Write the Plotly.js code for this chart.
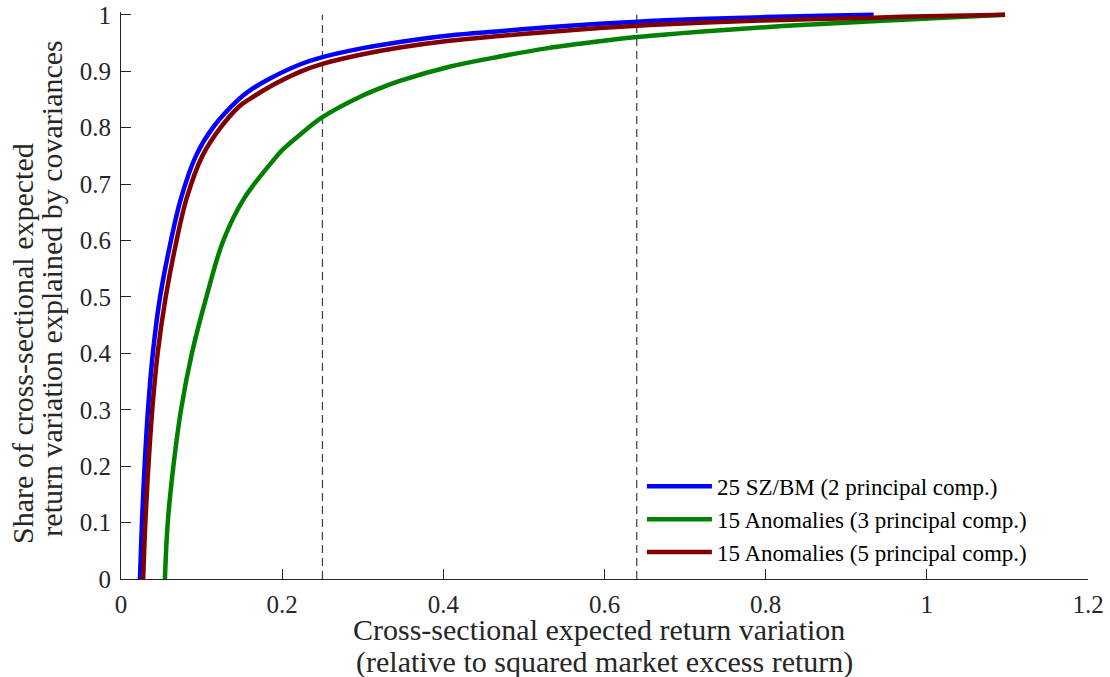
<!DOCTYPE html>
<html>
<head>
<meta charset="utf-8">
<script src="https://cdn.plot.ly/plotly-3.0.1.min.js"></script>
<style>
html,body{margin:0;padding:0;background:#fff;}
#chart{width:1110px;height:677px;}
</style>
</head>
<body>
<div id="chart"></div>
<script>
// Series names
const seriesNames = [
  "25 SZ/BM (2 principal comp.)",
  "15 Anomalies (3 principal comp.)",
  "15 Anomalies (5 principal comp.)"
];

// 25 SZ/BM (2 principal comp.)
const blueX = [0.0235, 0.026, 0.0293, 0.0335, 0.0395, 0.0485, 0.062, 0.0745, 0.093, 0.114, 0.146, 0.16, 0.186, 0.222, 0.25, 0.30, 0.346, 0.4075, 0.47, 0.53, 0.594, 0.656, 0.718, 0.80, 0.87, 0.934];
const blueY = [0, 0.1, 0.2, 0.3, 0.4, 0.5, 0.6, 0.675, 0.75, 0.8, 0.85, 0.866, 0.888, 0.912, 0.925, 0.941, 0.952, 0.9635, 0.971, 0.978, 0.984, 0.989, 0.9925, 0.996, 0.9985, 1.0];

// 15 Anomalies (3 principal comp.)
const greenX = [0.0545, 0.058, 0.065, 0.0745, 0.088, 0.106, 0.127, 0.153, 0.1895, 0.2, 0.2217, 0.25, 0.30, 0.325, 0.346, 0.4075, 0.47, 0.53, 0.594, 0.641, 0.718, 0.821, 0.945, 1.097];
const greenY = [0, 0.1, 0.2, 0.3, 0.4, 0.5, 0.6, 0.675, 0.743, 0.76, 0.787, 0.8186, 0.857, 0.872, 0.883, 0.908, 0.926, 0.941, 0.953, 0.9605, 0.970, 0.980, 0.9895, 1.0];

// 15 Anomalies (5 principal comp.)
const redX = [0.0275, 0.0302, 0.034, 0.0388, 0.0455, 0.0555, 0.069, 0.0815, 0.101, 0.1235, 0.147, 0.16, 0.189, 0.222, 0.25, 0.30, 0.346, 0.4075, 0.47, 0.53, 0.594, 0.656, 0.718, 0.821, 0.934, 1.0, 1.097];
const redY = [0, 0.1, 0.2, 0.3, 0.4, 0.5, 0.6, 0.675, 0.75, 0.8, 0.838, 0.851, 0.876, 0.899, 0.913, 0.930, 0.942, 0.954, 0.9625, 0.9695, 0.9765, 0.982, 0.986, 0.991, 0.995, 0.9975, 1.0];

// Vertical reference lines
const refLineX = [0.25, 0.64];
const refLineY = [0, 1];

// Tick values / labels
const xTickVals = [0, 0.2, 0.4, 0.6, 0.8, 1, 1.2];
const xTickText = ["0", "0.2", "0.4", "0.6", "0.8", "1", "1.2"];
const yTickVals = [0, 0.1, 0.2, 0.3, 0.4, 0.5, 0.6, 0.7, 0.8, 0.9, 1];
const yTickText = ["0", "0.1", "0.2", "0.3", "0.4", "0.5", "0.6", "0.7", "0.8", "0.9", "1"];

const xTitleLines = ["Cross-sectional expected return variation", "(relative to squared market excess return)"];
const yTitleLines = ["Share of cross-sectional expected", "return variation explained by covariances"];

const FONT = '"Liberation Serif", "Times New Roman", serif';
const AX = "rgb(38,38,38)";

const traces = [];
refLineX.forEach(function (xv) {
  traces.push({
    x: [xv, xv], y: refLineY, mode: "lines", showlegend: false, hoverinfo: "skip",
    line: {color: "rgb(60,60,60)", width: 1.2, dash: "8px,5px"}
  });
});
const cols = ["#0000ff", "#008000", "#800000"];
const xs = [blueX, greenX, redX];
const ys = [blueY, greenY, redY];
for (let i = 0; i < 3; i++) {
  traces.push({
    x: xs[i], y: ys[i], name: seriesNames[i], mode: "lines",
    line: {color: cols[i], width: 4.5, shape: "spline", smoothing: 1}
  });
}

const TF = {family: FONT, size: 30, color: AX};
const layout = {
  width: 1110, height: 677,
  margin: {l: 121, r: 22, t: 12, b: 98, pad: 0},
  paper_bgcolor: "#fff", plot_bgcolor: "#fff",
  font: {family: FONT, color: AX, size: 25},
  showlegend: true,
  legend: {
    x: 0.5387, y: 0.2014, xanchor: "left", yanchor: "top",
    bgcolor: "rgba(0,0,0,0)", borderwidth: 0,
    font: {family: FONT, size: 23, color: "#000"},
    itemwidth: 65,
    tracegroupgap: 0, traceorder: "normal"
  },
  xaxis: {
    range: [0, 1.2], tickvals: xTickVals, ticktext: xTickText,
    ticks: "inside", ticklen: 10, tickwidth: 1, tickcolor: AX,
    showline: true, linecolor: AX, linewidth: 1, mirror: false,
    showgrid: false, zeroline: false,
    tickfont: {family: FONT, size: 25, color: AX},
    ticklabelstandoff: 3
  },
  yaxis: {
    range: [0, 1.005], tickvals: yTickVals, ticktext: yTickText,
    ticks: "inside", ticklen: 10, tickwidth: 1, tickcolor: AX,
    showline: true, linecolor: AX, linewidth: 1, mirror: false,
    showgrid: false, zeroline: false,
    tickfont: {family: FONT, size: 25, color: AX},
    ticklabelstandoff: 4
  },
  annotations: [
    {text: xTitleLines[0], xref: "paper", yref: "paper", x: 0.4943, y: -0.0885,
     xanchor: "center", yanchor: "middle", showarrow: false, font: TF},
    {text: xTitleLines[1], xref: "paper", yref: "paper", x: 0.5, y: -0.146,
     xanchor: "center", yanchor: "middle", showarrow: false, font: TF},
    {text: yTitleLines[0], xref: "paper", yref: "paper", x: -0.1013, y: 0.4147,
     xanchor: "center", yanchor: "middle", showarrow: false, textangle: -90, font: TF},
    {text: yTitleLines[1], xref: "paper", yref: "paper", x: -0.0714, y: 0.512,
     xanchor: "center", yanchor: "middle", showarrow: false, textangle: -90, font: TF}
  ]
};

Plotly.newPlot("chart", traces, layout, {displayModeBar: false, staticPlot: true});
</script>
</body>
</html>
